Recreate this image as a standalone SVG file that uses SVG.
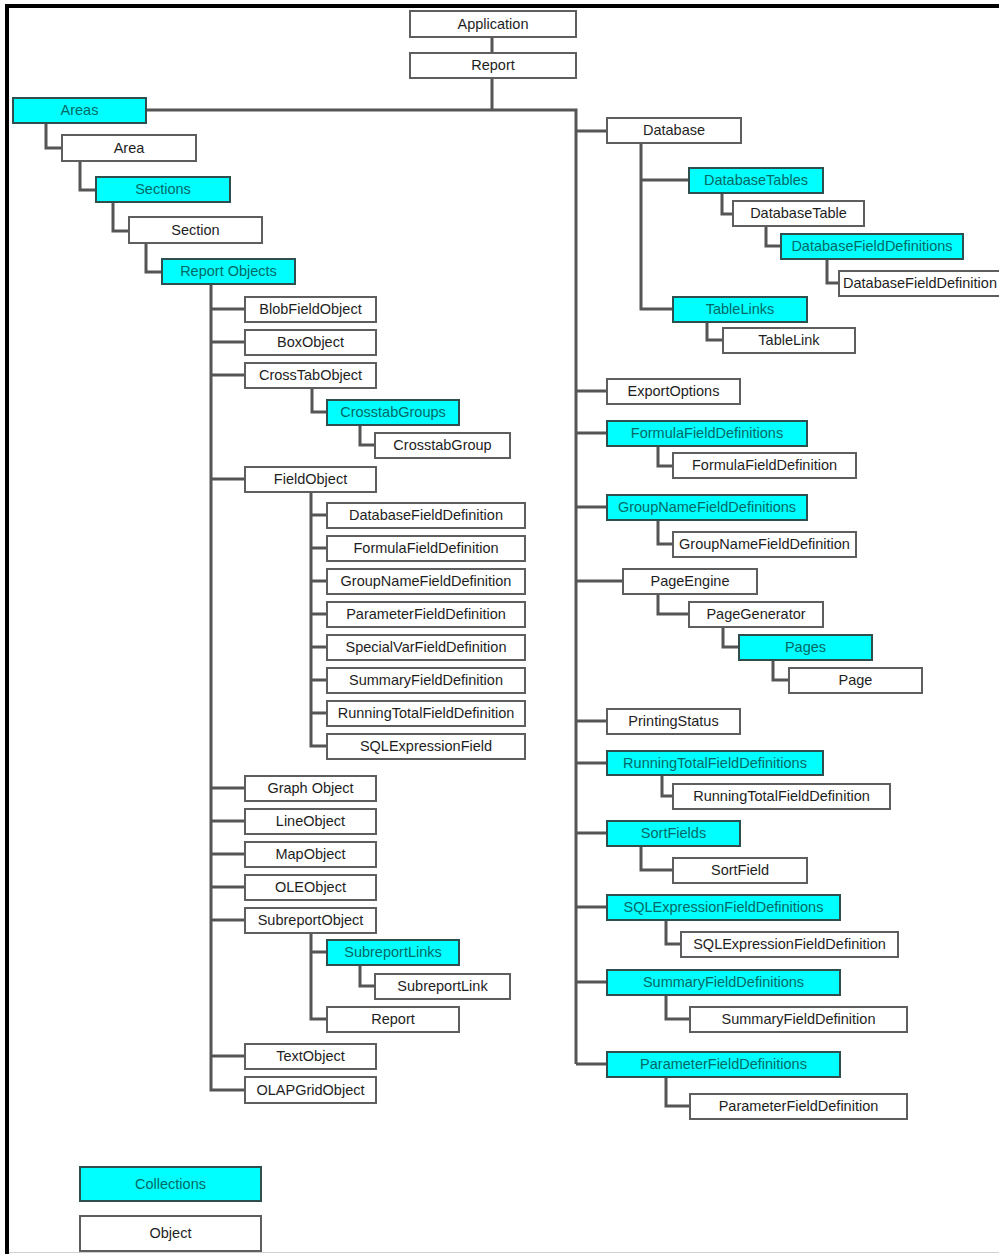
<svg xmlns="http://www.w3.org/2000/svg" width="999" height="1254" viewBox="0 0 999 1254">
<style>
.o rect{fill:#ffffff;stroke:#5e5e5e;stroke-width:2}
.c rect{fill:#00ffff;stroke:#2f4f4f;stroke-width:2}
text{font-family:"Liberation Sans",Arial,sans-serif;font-size:14.5px;text-anchor:middle}
.o text{fill:#1e1e1e}
.c text{fill:#006a66}
#connectors path{fill:none;stroke:#555555;stroke-width:3}
</style>
<rect x="0" y="0" width="999" height="1254" fill="#ffffff"/>
<path d="M7 1254 V6 H999" fill="none" stroke="#000000" stroke-width="4"/>
<line x1="9" y1="1252.5" x2="999" y2="1252.5" stroke="#d0d0d0" stroke-width="1"/>
<g id="connectors">
<path d="M492 37 V53"/>
<path d="M492 78 V110"/>
<path d="M146 110 H576 V1064"/>
<path d="M576 131 H607 M576 391 H607 M576 433 H607 M576 507 H607 M576 581 H623 M576 721 H607 M576 763 H607 M576 833 H607 M576 907 H607 M576 982 H607 M576 1064 H607"/>
<path d="M641 143 V309 H673 M641 180 H689"/>
<path d="M722 193 V214 H733"/>
<path d="M766 226 V246 H781"/>
<path d="M827 259 V283 H839"/>
<path d="M707 322 V340 H723"/>
<path d="M658 446 V466 H673"/>
<path d="M658 520 V544 H673"/>
<path d="M658 594 V614 H689"/>
<path d="M723 627 V647 H739"/>
<path d="M773 660 V680 H789"/>
<path d="M662 775 V796 H673"/>
<path d="M641 846 V870 H673"/>
<path d="M666 920 V944 H681"/>
<path d="M666 995 V1019 H690"/>
<path d="M666 1077 V1106 H690"/>
<path d="M46 123 V148 H62"/>
<path d="M80 161 V190 H96"/>
<path d="M113 202 V231 H129"/>
<path d="M146 243 V272 H162"/>
<path d="M211 284 V1090 H245"/>
<path d="M211 309 H245 M211 342 H245 M211 375 H245 M211 479 H245 M211 788 H245 M211 821 H245 M211 854 H245 M211 887 H245 M211 920 H245 M211 1056 H245"/>
<path d="M312 387 V412 H327"/>
<path d="M360 425 V445 H375"/>
<path d="M311 491 V746 H327 M311 515 H327 M311 548 H327 M311 581 H327 M311 614 H327 M311 647 H327 M311 680 H327 M311 713 H327"/>
<path d="M311 932 V1019 H327 M311 952 H327"/>
<path d="M360 965 V986 H375"/>
</g>
<g id="n-application" class="o"><rect x="410" y="11" width="166" height="26"/><text x="493" y="29">Application</text></g>
<g id="n-report" class="o"><rect x="410" y="53" width="166" height="25"/><text x="493" y="70">Report</text></g>
<g id="n-areas" class="c"><rect x="13" y="98" width="133" height="25"/><text x="79.5" y="115">Areas</text></g>
<g id="n-area" class="o"><rect x="62" y="135" width="134" height="26"/><text x="129" y="153">Area</text></g>
<g id="n-sections" class="c"><rect x="96" y="177" width="134" height="25"/><text x="163" y="194">Sections</text></g>
<g id="n-section" class="o"><rect x="129" y="217" width="133" height="26"/><text x="195.5" y="235">Section</text></g>
<g id="n-reportobjects" class="c"><rect x="162" y="259" width="133" height="25"/><text x="228.5" y="276">Report Objects</text></g>
<g id="n-blobfieldobject" class="o"><rect x="245" y="297" width="131" height="25"/><text x="310.5" y="314">BlobFieldObject</text></g>
<g id="n-boxobject" class="o"><rect x="245" y="330" width="131" height="25"/><text x="310.5" y="347">BoxObject</text></g>
<g id="n-crosstabobject" class="o"><rect x="245" y="363" width="131" height="25"/><text x="310.5" y="380">CrossTabObject</text></g>
<g id="n-crosstabgroups" class="c"><rect x="327" y="400" width="132" height="25"/><text x="393" y="417">CrosstabGroups</text></g>
<g id="n-crosstabgroup" class="o"><rect x="375" y="433" width="135" height="25"/><text x="442.5" y="450">CrosstabGroup</text></g>
<g id="n-fieldobject" class="o"><rect x="245" y="467" width="131" height="25"/><text x="310.5" y="484">FieldObject</text></g>
<g id="n-fo-databasefielddefinition" class="o"><rect x="327" y="503" width="198" height="25"/><text x="426" y="520">DatabaseFieldDefinition</text></g>
<g id="n-fo-formulafielddefinition" class="o"><rect x="327" y="536" width="198" height="25"/><text x="426" y="553">FormulaFieldDefinition</text></g>
<g id="n-fo-groupnamefielddefinition" class="o"><rect x="327" y="569" width="198" height="25"/><text x="426" y="586">GroupNameFieldDefinition</text></g>
<g id="n-fo-parameterfielddefinition" class="o"><rect x="327" y="602" width="198" height="25"/><text x="426" y="619">ParameterFieldDefinition</text></g>
<g id="n-fo-specialvarfielddefinition" class="o"><rect x="327" y="635" width="198" height="25"/><text x="426" y="652">SpecialVarFieldDefinition</text></g>
<g id="n-fo-summaryfielddefinition" class="o"><rect x="327" y="668" width="198" height="25"/><text x="426" y="685">SummaryFieldDefinition</text></g>
<g id="n-fo-runningtotalfielddefinition" class="o"><rect x="327" y="701" width="198" height="25"/><text x="426" y="718">RunningTotalFieldDefinition</text></g>
<g id="n-fo-sqlexpressionfield" class="o"><rect x="327" y="734" width="198" height="25"/><text x="426" y="751">SQLExpressionField</text></g>
<g id="n-graphobject" class="o"><rect x="245" y="776" width="131" height="25"/><text x="310.5" y="793">Graph Object</text></g>
<g id="n-lineobject" class="o"><rect x="245" y="809" width="131" height="25"/><text x="310.5" y="826">LineObject</text></g>
<g id="n-mapobject" class="o"><rect x="245" y="842" width="131" height="25"/><text x="310.5" y="859">MapObject</text></g>
<g id="n-oleobject" class="o"><rect x="245" y="875" width="131" height="25"/><text x="310.5" y="892">OLEObject</text></g>
<g id="n-subreportobject" class="o"><rect x="245" y="908" width="131" height="25"/><text x="310.5" y="925">SubreportObject</text></g>
<g id="n-subreportlinks" class="c"><rect x="327" y="940" width="132" height="25"/><text x="393" y="957">SubreportLinks</text></g>
<g id="n-subreportlink" class="o"><rect x="375" y="974" width="135" height="25"/><text x="442.5" y="991">SubreportLink</text></g>
<g id="n-subreport-report" class="o"><rect x="327" y="1007" width="132" height="25"/><text x="393" y="1024">Report</text></g>
<g id="n-textobject" class="o"><rect x="245" y="1044" width="131" height="25"/><text x="310.5" y="1061">TextObject</text></g>
<g id="n-olapgridobject" class="o"><rect x="245" y="1077" width="131" height="26"/><text x="310.5" y="1095">OLAPGridObject</text></g>
<g id="n-database" class="o"><rect x="607" y="118" width="134" height="25"/><text x="674" y="135">Database</text></g>
<g id="n-databasetables" class="c"><rect x="689" y="168" width="134" height="25"/><text x="756" y="185">DatabaseTables</text></g>
<g id="n-databasetable" class="o"><rect x="733" y="201" width="131" height="25"/><text x="798.5" y="218">DatabaseTable</text></g>
<g id="n-databasefielddefinitions" class="c"><rect x="781" y="234" width="182" height="25"/><text x="872" y="251">DatabaseFieldDefinitions</text></g>
<g id="n-databasefielddefinition" class="o"><rect x="839" y="271" width="168" height="25"/><text x="843" y="288" style="text-anchor:start">DatabaseFieldDefinition</text></g>
<g id="n-tablelinks" class="c"><rect x="673" y="297" width="134" height="25"/><text x="740" y="314">TableLinks</text></g>
<g id="n-tablelink" class="o"><rect x="723" y="328" width="132" height="25"/><text x="789" y="345">TableLink</text></g>
<g id="n-exportoptions" class="o"><rect x="607" y="379" width="133" height="25"/><text x="673.5" y="396">ExportOptions</text></g>
<g id="n-formulafielddefinitions" class="c"><rect x="607" y="421" width="200" height="25"/><text x="707" y="438">FormulaFieldDefinitions</text></g>
<g id="n-formulafielddefinition" class="o"><rect x="673" y="453" width="183" height="25"/><text x="764.5" y="470">FormulaFieldDefinition</text></g>
<g id="n-groupnamefielddefinitions" class="c"><rect x="607" y="495" width="200" height="25"/><text x="707" y="512">GroupNameFieldDefinitions</text></g>
<g id="n-groupnamefielddefinition" class="o"><rect x="673" y="532" width="183" height="25"/><text x="764.5" y="549">GroupNameFieldDefinition</text></g>
<g id="n-pageengine" class="o"><rect x="623" y="569" width="134" height="25"/><text x="690" y="586">PageEngine</text></g>
<g id="n-pagegenerator" class="o"><rect x="689" y="602" width="134" height="25"/><text x="756" y="619">PageGenerator</text></g>
<g id="n-pages" class="c"><rect x="739" y="635" width="133" height="25"/><text x="805.5" y="652">Pages</text></g>
<g id="n-page" class="o"><rect x="789" y="668" width="133" height="25"/><text x="855.5" y="685">Page</text></g>
<g id="n-printingstatus" class="o"><rect x="607" y="709" width="133" height="25"/><text x="673.5" y="726">PrintingStatus</text></g>
<g id="n-runningtotalfielddefinitions" class="c"><rect x="607" y="751" width="216" height="24"/><text x="715" y="768">RunningTotalFieldDefinitions</text></g>
<g id="n-runningtotalfielddefinition" class="o"><rect x="673" y="784" width="217" height="25"/><text x="781.5" y="801">RunningTotalFieldDefinition</text></g>
<g id="n-sortfields" class="c"><rect x="607" y="821" width="133" height="25"/><text x="673.5" y="838">SortFields</text></g>
<g id="n-sortfield" class="o"><rect x="673" y="858" width="134" height="25"/><text x="740" y="875">SortField</text></g>
<g id="n-sqlexpressionfielddefinitions" class="c"><rect x="607" y="895" width="233" height="25"/><text x="723.5" y="912">SQLExpressionFieldDefinitions</text></g>
<g id="n-sqlexpressionfielddefinition" class="o"><rect x="681" y="932" width="217" height="25"/><text x="789.5" y="949">SQLExpressionFieldDefinition</text></g>
<g id="n-summaryfielddefinitions" class="c"><rect x="607" y="970" width="233" height="25"/><text x="723.5" y="987">SummaryFieldDefinitions</text></g>
<g id="n-summaryfielddefinition" class="o"><rect x="690" y="1007" width="217" height="25"/><text x="798.5" y="1024">SummaryFieldDefinition</text></g>
<g id="n-parameterfielddefinitions" class="c"><rect x="607" y="1052" width="233" height="25"/><text x="723.5" y="1069">ParameterFieldDefinitions</text></g>
<g id="n-parameterfielddefinition" class="o"><rect x="690" y="1094" width="217" height="25"/><text x="798.5" y="1111">ParameterFieldDefinition</text></g>
<g id="legend-collections" class="c"><rect x="80" y="1167" width="181" height="34"/><text x="170.5" y="1189">Collections</text></g>
<g id="legend-object" class="o"><rect x="80" y="1216" width="181" height="35"/><text x="170.5" y="1238">Object</text></g>
</svg>
